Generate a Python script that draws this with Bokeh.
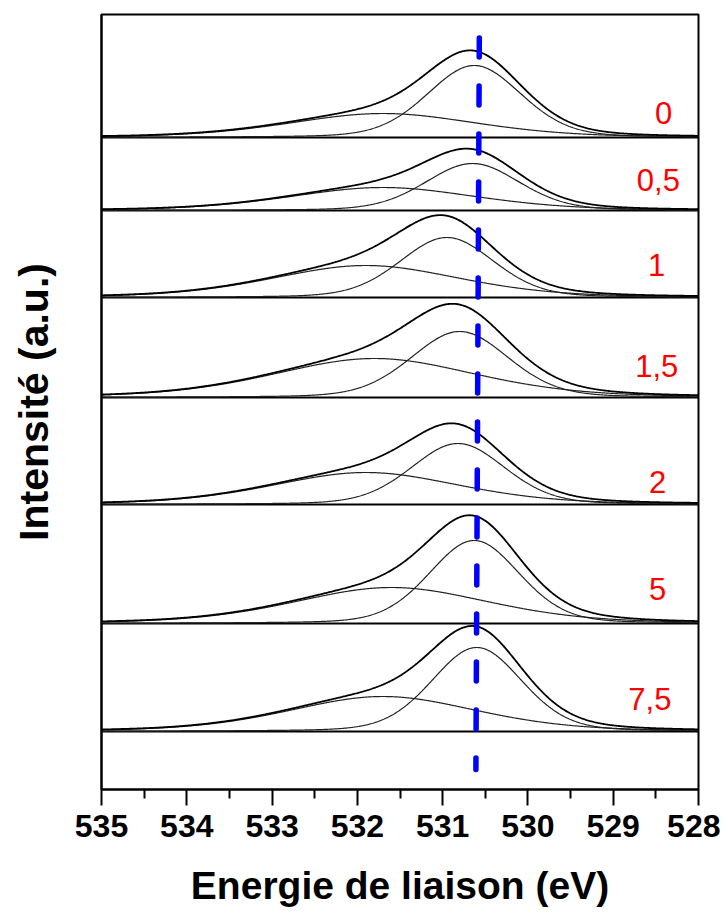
import numpy as np
from bokeh.plotting import figure
from bokeh.models import Range1d, FixedTicker
from bokeh.embed import file_html
from bokeh.resources import INLINE
from bokeh.core.properties import value

# ---- data (O1s XPS fits, stacked) ----
samples = ["0", "0,5", "1", "1,5", "2", "5", "7,5"]
offsets = [652, 579, 492, 392, 285, 166, 58]          # stacking baselines (a.u.)
main_center = [530.63, 530.65, 530.95, 530.80, 530.82, 530.63, 530.60]   # eV
main_height = [72, 47, 60, 66, 61, 83, 84]
main_fwhm = [1.30, 1.30, 1.30, 1.35, 1.30, 1.25, 1.25]
broad_center = [531.70, 531.70, 531.90, 531.80, 531.90, 531.60, 531.70]  # eV
broad_height = [24, 23, 32, 39, 32, 36, 35]
broad_fwhm = [2.6, 2.6, 2.6, 2.8, 2.6, 2.7, 2.6]
label_x = [528.41, 528.47, 528.49, 528.49, 528.48, 528.48, 528.57]
label_y = [677, 610, 525, 424, 308, 201, 91]
ref_line_x = [530.57, 530.61]
ref_line_y = [751.5, 20]
x_ticks = [535, 534, 533, 532, 531, 530, 529, 528]
x_minor = [534.5, 533.5, 532.5, 531.5, 530.5, 529.5, 528.5]

FONT = "Liberation Sans"

energy = np.linspace(535, 528, 701)


def gl(x, c, h, w, m):
    t = (x - c) / w
    return h * ((1 - m) * np.exp(-4 * np.log(2) * t * t) + m / (1 + 4 * t * t))


p = figure(width=720, height=919, output_backend="svg", toolbar_location=None,
           x_range=Range1d(535, 528), y_range=Range1d(0, 775),
           min_border_left=101, min_border_right=22, min_border_top=14,
           min_border_bottom=130)
p.xgrid.visible = False
p.ygrid.visible = False
p.outline_line_color = "black"
p.outline_line_width = 2
p.background_fill_color = "white"
p.border_fill_color = "white"

for i in range(len(samples)):
    base = offsets[i]
    comp1 = gl(energy, main_center[i], main_height[i], main_fwhm[i], 0.2)
    comp2 = gl(energy, broad_center[i], broad_height[i], broad_fwhm[i], 0.3)
    env = comp1 + comp2
    p.line([535, 528], [base, base], line_color="black", line_width=2)
    p.line(energy, base + comp2, line_color="#222222", line_width=1.2)
    p.line(energy, base + comp1, line_color="#222222", line_width=1.2)
    p.line(energy, base + env, line_color="black", line_width=1.8)
    p.text(x=[label_x[i]], y=[label_y[i]], text=[samples[i]],
           text_color="#ff0000", text_font=value(FONT), text_font_size="31px",
           text_align="center", text_baseline="middle")

p.line(ref_line_x, ref_line_y, line_color="#0000ff", line_width=5.5,
       line_dash="19 29", line_cap="round")

xa = p.xaxis[0]
xa.ticker = FixedTicker(ticks=x_ticks, minor_ticks=x_minor)
xa.axis_line_width = 2
xa.major_tick_line_width = 2
xa.minor_tick_line_width = 2
xa.major_tick_in = 0
xa.major_tick_out = 16
xa.minor_tick_in = 0
xa.minor_tick_out = 9
xa.major_label_text_font = FONT
xa.major_label_text_font_style = "bold"
xa.major_label_text_font_size = "32px"
xa.major_label_text_color = "black"
xa.major_label_standoff = 9
xa.axis_label = "Energie de liaison (eV)"
xa.axis_label_text_font = FONT
xa.axis_label_text_font_style = "bold"
xa.axis_label_text_font_size = "39px"
xa.axis_label_text_color = "black"
xa.axis_label_standoff = 24

ya = p.yaxis[0]
ya.ticker = FixedTicker(ticks=[])
ya.axis_line_width = 2
ya.major_tick_out = 0
ya.major_tick_in = 0
ya.minor_tick_out = 0
ya.minor_tick_in = 0
ya.major_label_text_font_size = "0px"
ya.axis_label = "Intensité (a.u.)"
ya.axis_label_text_font = FONT
ya.axis_label_text_font_style = "bold"
ya.axis_label_text_font_size = "41px"
ya.axis_label_text_color = "black"
ya.axis_label_standoff = 45

open("out.html", "w").write(file_html(p, INLINE))
